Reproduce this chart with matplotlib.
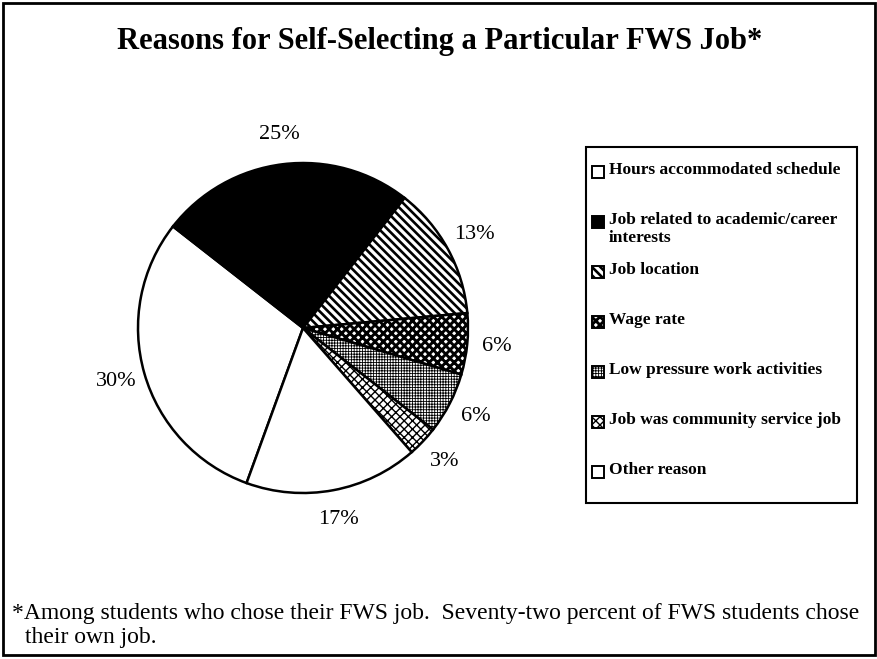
import matplotlib
matplotlib.use('Agg')
import matplotlib.pyplot as plt
from matplotlib.patches import Rectangle

plt.rcParams['font.family'] = 'Liberation Serif'

# share of students giving each reason (percent)
reasons = ['Hours accommodated schedule',
           'Job related to academic/career\ninterests',
           'Job location',
           'Wage rate',
           'Low pressure work activities',
           'Job was community service job',
           'Other reason']
shares = [30, 25, 13, 6, 6, 3, 17]

title = 'Reasons for Self-Selecting a Particular FWS Job*'
note_1 = '*Among students who chose their FWS job.  Seventy-two percent of FWS students chose'
note_2 = 'their own job.'

# fill style for each slice: face colour, hatch, hatch line width
faces = ['white', 'black', 'white', 'white', 'white', 'white', 'white']
hatches = [None, None, '\\\\\\\\', 'xxxx', '++++++', 'xxxx', None]
hatch_lw = [1.0, 1.0, 1.9, 2.1, 0.6, 1.0, 1.0]

W, H = 878, 659
fig = plt.figure(figsize=(W / 100, H / 100), dpi=100)

def fx(px):
    return px / W

def fy(py):
    return 1 - py / H

# outer frame
fig.patches.append(Rectangle((fx(3), fy(655)), fx(872), 652 / H, transform=fig.transFigure,
                             fill=False, edgecolor='black', linewidth=2))

fig.text(fx(440), fy(42), title, ha='center', va='center', fontsize=22, fontweight='bold')

# pie, centre at (303, 328) px with a 165 px radius
half = 165 * 1.25
ax = fig.add_axes([fx(303 - half), fy(328 + half), 2 * half / W, 2 * half / H])
wedges, texts, pcts = ax.pie(shares, colors=faces, startangle=250, counterclock=False,
                             autopct='%1.0f%%', pctdistance=1.18,
                             wedgeprops=dict(edgecolor='black', linewidth=1.8),
                             textprops=dict(fontsize=16))
for w, h, lw in zip(wedges, hatches, hatch_lw):
    if h:
        w.set_hatch(h)
        w.set_hatch_linewidth(lw)
ax.set_xlim(-1.25, 1.25)
ax.set_ylim(-1.25, 1.25)

# legend box drawn by hand so the rows keep their even spacing
fig.patches.append(Rectangle((fx(586), fy(503)), fx(271), 356 / H, transform=fig.transFigure,
                             fill=False, edgecolor='black', linewidth=1.5))
for i, name in enumerate(reasons):
    y = 172 + 50 * i
    key = Rectangle((fx(592), fy(y + 6)), fx(12), 12 / H, transform=fig.transFigure,
                    facecolor=faces[i], edgecolor='black', linewidth=1.4)
    if hatches[i]:
        key.set_hatch(hatches[i])
        key.set_hatch_linewidth(hatch_lw[i])
    fig.patches.append(key)
    fig.text(fx(609), fy(y - 10), name, ha='left', va='top', fontsize=12.5,
             fontweight='bold', linespacing=1.15)

fig.text(fx(12), fy(613), note_1, ha='left', va='center', fontsize=17)
fig.text(fx(25), fy(638), note_2, ha='left', va='center', fontsize=17)

fig.savefig('out.png', dpi=100)
